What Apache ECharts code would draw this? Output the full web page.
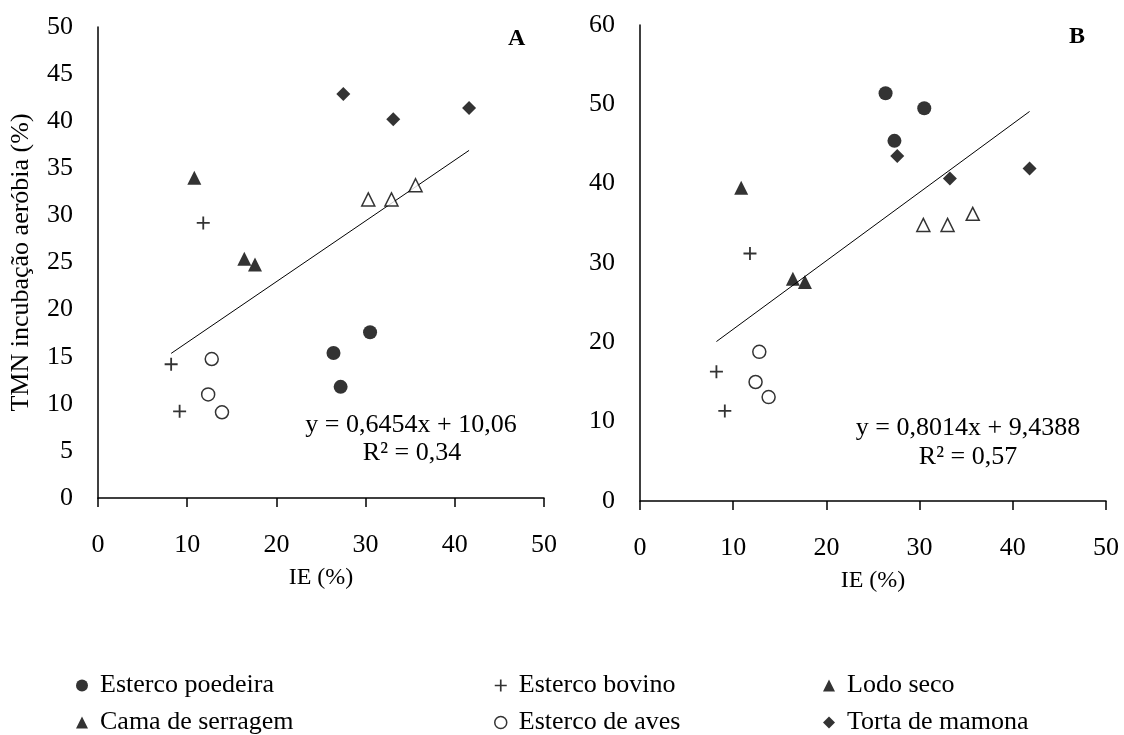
<!DOCTYPE html>
<html>
<head>
<meta charset="utf-8">
<script src="https://cdn.jsdelivr.net/npm/echarts@6/dist/echarts.min.js"></script>
<style>
  html, body { margin: 0; padding: 0; background: #fff; }
  #chart { width: 1124px; height: 735px; }
</style>
</head>
<body>
<div id="chart"></div>
<script>
// 图表初始化
var chart = echarts.init(document.getElementById('chart'));
var fonte = 'Liberation Serif';

var nomes = ['Esterco poedeira', 'Esterco bovino', 'Lodo seco', 'Cama de serragem', 'Esterco de aves', 'Torta de mamona'];

// painel A  [IE, TMN]
var poedeiraA = [[26.4, 15.4], [30.5, 17.6], [27.2, 11.8]];
var bovinoA = [[8.2, 14.2], [9.15, 9.2], [11.8, 29.2]];
var lodoA = [[10.8, 34.0], [16.4, 25.4], [17.6, 24.8]];
var camaA = [[30.3, 31.7], [32.9, 31.7], [35.6, 33.2]];
var avesA = [[12.75, 14.75], [12.35, 11.0], [13.9, 9.1]];
var tortaA = [[27.5, 42.9], [33.1, 40.2], [41.6, 41.4]];
var tendA = [[8.2, 15.35], [41.6, 36.9]];

// painel B
var poedeiraB = [[26.35, 51.4], [30.5, 49.5], [27.3, 45.4]];
var bovinoB = [[8.2, 16.3], [9.1, 11.35], [11.8, 31.2]];
var lodoB = [[10.86, 39.5], [16.4, 28.0], [17.7, 27.6]];
var camaB = [[30.4, 34.8], [33.0, 34.8], [35.7, 36.2]];
var avesB = [[12.8, 18.8], [12.4, 15.0], [13.8, 13.1]];
var tortaB = [[27.6, 43.5], [33.25, 40.65], [41.8, 41.9]];
var tendB = [[8.2, 20.1], [41.8, 49.1]];

var eqA = ['y = 0,6454x + 10,06', 'R² = 0,34'];
var eqB = ['y = 0,8014x + 9,4388', 'R² = 0,57'];

var plusPath = 'path://M4.3,0H5.7V4.3H10V5.7H5.7V10H4.3V5.7H0V4.3H4.3Z';

// estilo de cada grupo
var estilos = {
  'Esterco poedeira': { symbol: 'circle', symbolSize: 14, itemStyle: { color: '#000' } },
  'Esterco bovino': { symbol: plusPath, symbolSize: 13, itemStyle: { color: '#000' } },
  'Lodo seco': { symbol: 'triangle', symbolSize: 14, itemStyle: { color: '#000' } },
  'Cama de serragem': { symbol: 'triangle', symbolSize: 13, itemStyle: { color: '#fff', borderColor: '#000', borderWidth: 1.5 } },
  'Esterco de aves': { symbol: 'circle', symbolSize: 13, itemStyle: { color: '#fff', borderColor: '#000', borderWidth: 1.5 } },
  'Torta de mamona': { symbol: 'diamond', symbolSize: 14, itemStyle: { color: '#000' } }
};

function pontos(nome, dados, idx) {
  var e = estilos[nome];
  return {
    name: nome, type: 'scatter', xAxisIndex: idx, yAxisIndex: idx,
    symbol: e.symbol, symbolSize: e.symbolSize, itemStyle: e.itemStyle,
    data: dados, z: 3
  };
}

function linha(dados, idx) {
  return {
    type: 'line', xAxisIndex: idx, yAxisIndex: idx, data: dados,
    symbol: 'none', lineStyle: { color: '#000', width: 1 }, silent: true, z: 2
  };
}

// acima de 26px a fonte serifada cai para sans, então fica em 26
function eixoX(idx) {
  return {
    type: 'value', gridIndex: idx, min: 0, max: 50, interval: 10,
    name: 'IE (%)', nameLocation: 'middle', nameGap: 68,
    nameTextStyle: { color: '#000', fontFamily: fonte, fontSize: 24 },
    axisLine: { lineStyle: { color: '#000', width: 1.5 } },
    axisTick: { length: 9, lineStyle: { color: '#000', width: 1.5 } },
    axisLabel: { color: '#000', fontFamily: fonte, fontSize: 26, margin: 34 },
    splitLine: { show: false }
  };
}

function eixoY(idx, max, nome) {
  return {
    type: 'value', gridIndex: idx, min: 0, max: max, interval: max === 50 ? 5 : 10,
    name: nome, nameLocation: 'middle', nameGap: 64,
    nameTextStyle: { color: '#000', fontFamily: fonte, fontSize: 26 },
    axisLine: { show: true, lineStyle: { color: '#000', width: 1.5 } },
    axisTick: { show: false },
    axisLabel: { color: '#000', fontFamily: fonte, fontSize: 26, margin: 25 },
    splitLine: { show: false }
  };
}

function legenda(itens, left) {
  return {
    orient: 'vertical', left: left, top: 671, height: 70, padding: 0, itemGap: 8,
    itemWidth: 12, itemHeight: 12, selectedMode: false,
    textStyle: { color: '#000', fontFamily: fonte, fontSize: 26, lineHeight: 29, padding: [0, 0, 0, 7] },
    data: itens.map(function (n) {
      var e = estilos[n];
      var cor = n === 'Esterco de aves' ? { color: '#fff', borderColor: '#000', borderWidth: 1.5 } : { color: '#000', borderWidth: 0 };
      return { name: n, icon: e.symbol, itemStyle: cor };
    })
  };
}

var series = [];
[[poedeiraA, bovinoA, lodoA, camaA, avesA, tortaA], [poedeiraB, bovinoB, lodoB, camaB, avesB, tortaB]].forEach(function (grp, idx) {
  grp.forEach(function (d, i) { series.push(pontos(nomes[i], d, idx)); });
});
series.push(linha(tendA, 0));
series.push(linha(tendB, 1));

function texto(t, x, y) {
  return {
    type: 'text', x: x, y: y,
    style: { text: t, fill: '#000', fontFamily: fonte, fontSize: 26, align: 'center', verticalAlign: 'middle' }
  };
}

var option = {
  backgroundColor: '#fff',
  animation: false,
  textStyle: { fontFamily: fonte },
  grid: [
    { left: 98, right: 580, top: 27, bottom: 237 },
    { left: 640, right: 18, top: 25, bottom: 234 }
  ],
  xAxis: [eixoX(0), eixoX(1)],
  yAxis: [eixoY(0, 50, 'TMN incubação aeróbia (%)'), eixoY(1, 60, '')],
  legend: [
    legenda(['Esterco poedeira', 'Cama de serragem'], 76),
    legenda(['Esterco bovino', 'Esterco de aves'], 494),
    legenda(['Lodo seco', 'Torta de mamona'], 823)
  ],
  title: [
    { text: 'A', left: 503, top: 22, textStyle: { fontFamily: fonte, fontSize: 24, fontWeight: 'bold', color: '#000' } },
    { text: 'B', left: 1064, top: 20, textStyle: { fontFamily: fonte, fontSize: 24, fontWeight: 'bold', color: '#000' } }
  ],
  graphic: [
    texto(eqA[0], 411, 425),
    texto(eqA[1], 412, 453),
    texto(eqB[0], 968, 428),
    texto(eqB[1], 968, 457)
  ],
  series: series
};

chart.setOption(option);
</script>
</body>
</html>
